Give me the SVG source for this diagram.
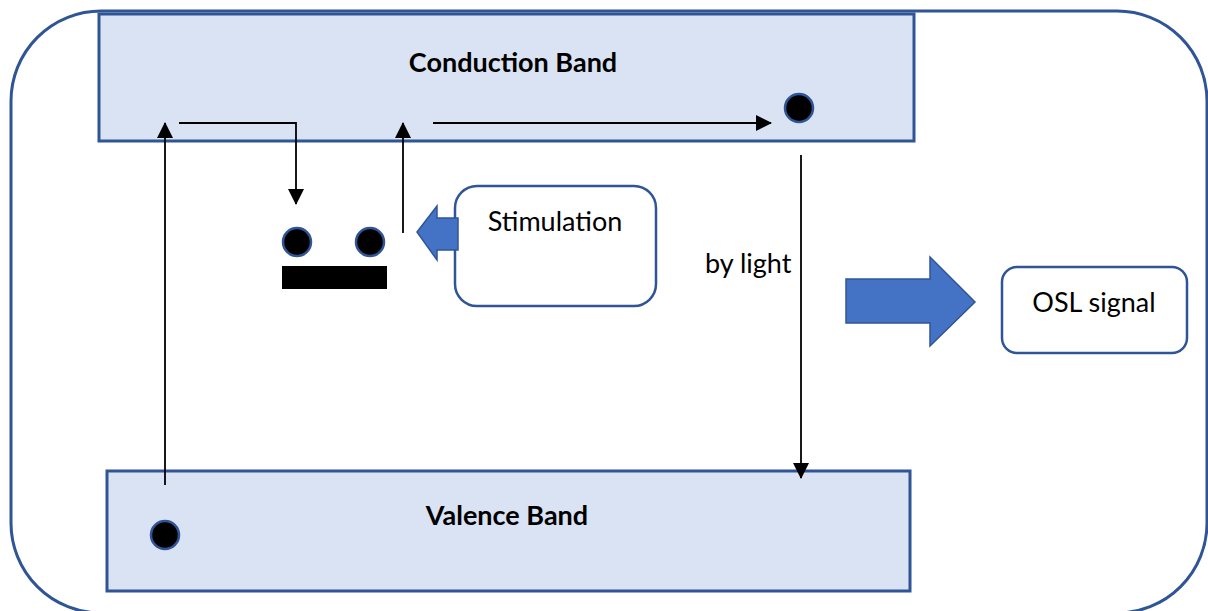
<svg xmlns="http://www.w3.org/2000/svg" width="1208" height="611" viewBox="0 0 1208 611">
  <style>
    .band { fill: #DAE3F3; stroke: #2F5597; stroke-width: 3; }
    .box { fill: #FFFFFF; stroke: #2F5597; stroke-width: 2.5; }
    .dot { fill: #000000; stroke: #2F5597; stroke-width: 2.5; }
    .conn { fill: none; stroke: #000000; stroke-width: 1.8; }
    .block { fill: #4472C4; stroke: #2F5597; stroke-width: 1.5; }
    .lbl { font-family: Lato, "Open Sans", "Liberation Sans", sans-serif; fill: #000000; }
    .bold { font-weight: bold; font-size: 27px; }
    .reg { font-size: 27px; }
  </style>
  <defs>
    <marker id="ah" markerUnits="userSpaceOnUse" markerWidth="16" markerHeight="16" viewBox="0 0 16 16" refX="15" refY="8" orient="auto">
      <path d="M0,0 L16,8 L0,16 Z" fill="#000000"/>
    </marker>
  </defs>

  <g id="frame">
    <rect x="11" y="11" width="1196" height="602" rx="90" ry="90" fill="none" stroke="#2F5597" stroke-width="3"/>
  </g>

  <g id="conduction-band">
    <rect class="band" x="99" y="14" width="815" height="127"/>
    <text class="lbl bold" x="513" y="72" text-anchor="middle">Conduction Band</text>
  </g>

  <g id="valence-band">
    <rect class="band" x="107" y="471" width="803" height="120"/>
    <text class="lbl bold" x="507" y="525" text-anchor="middle">Valence Band</text>
  </g>

  <g id="electron-cb">
    <circle class="dot" cx="799" cy="108" r="14"/>
  </g>
  <g id="hole-vb">
    <circle class="dot" cx="165" cy="535" r="14"/>
  </g>

  <g id="trap">
    <circle class="dot" cx="297" cy="242" r="14"/>
    <circle class="dot" cx="370" cy="242" r="14"/>
    <rect x="282" y="266" width="105" height="23" fill="#000000"/>
  </g>

  <g id="stimulation">
    <rect class="box" x="455" y="186" width="201" height="120" rx="22" ry="22"/>
    <text class="lbl reg" x="555" y="231" text-anchor="middle">Stimulation</text>
  </g>

  <g id="stimulation-arrow">
    <path class="block" d="M458,218 L437,218 L437,206 L417,232 L437,260 L437,250 L458,250 Z"/>
  </g>

  <g id="osl-arrow">
    <path class="block" d="M846,279 L930,279 L930,257 L975,302 L930,346 L930,323 L846,323 Z"/>
  </g>

  <g id="osl-signal">
    <rect class="box" x="1002" y="267" width="185" height="86" rx="15" ry="15"/>
    <text class="lbl reg" x="1094" y="312" text-anchor="middle">OSL signal</text>
  </g>

  <g id="connectors">
    <line class="conn" x1="165" y1="485" x2="165" y2="123" marker-end="url(#ah)"/>
    <polyline class="conn" points="179,123 296,123 296,204" marker-end="url(#ah)"/>
    <line class="conn" x1="403" y1="233" x2="403" y2="123" marker-end="url(#ah)"/>
    <line class="conn" x1="433" y1="123" x2="771" y2="123" marker-end="url(#ah)"/>
    <line class="conn" x1="801" y1="155" x2="801" y2="478" marker-end="url(#ah)"/>
    <text class="lbl reg" x="705" y="273">by light</text>
  </g>
</svg>
